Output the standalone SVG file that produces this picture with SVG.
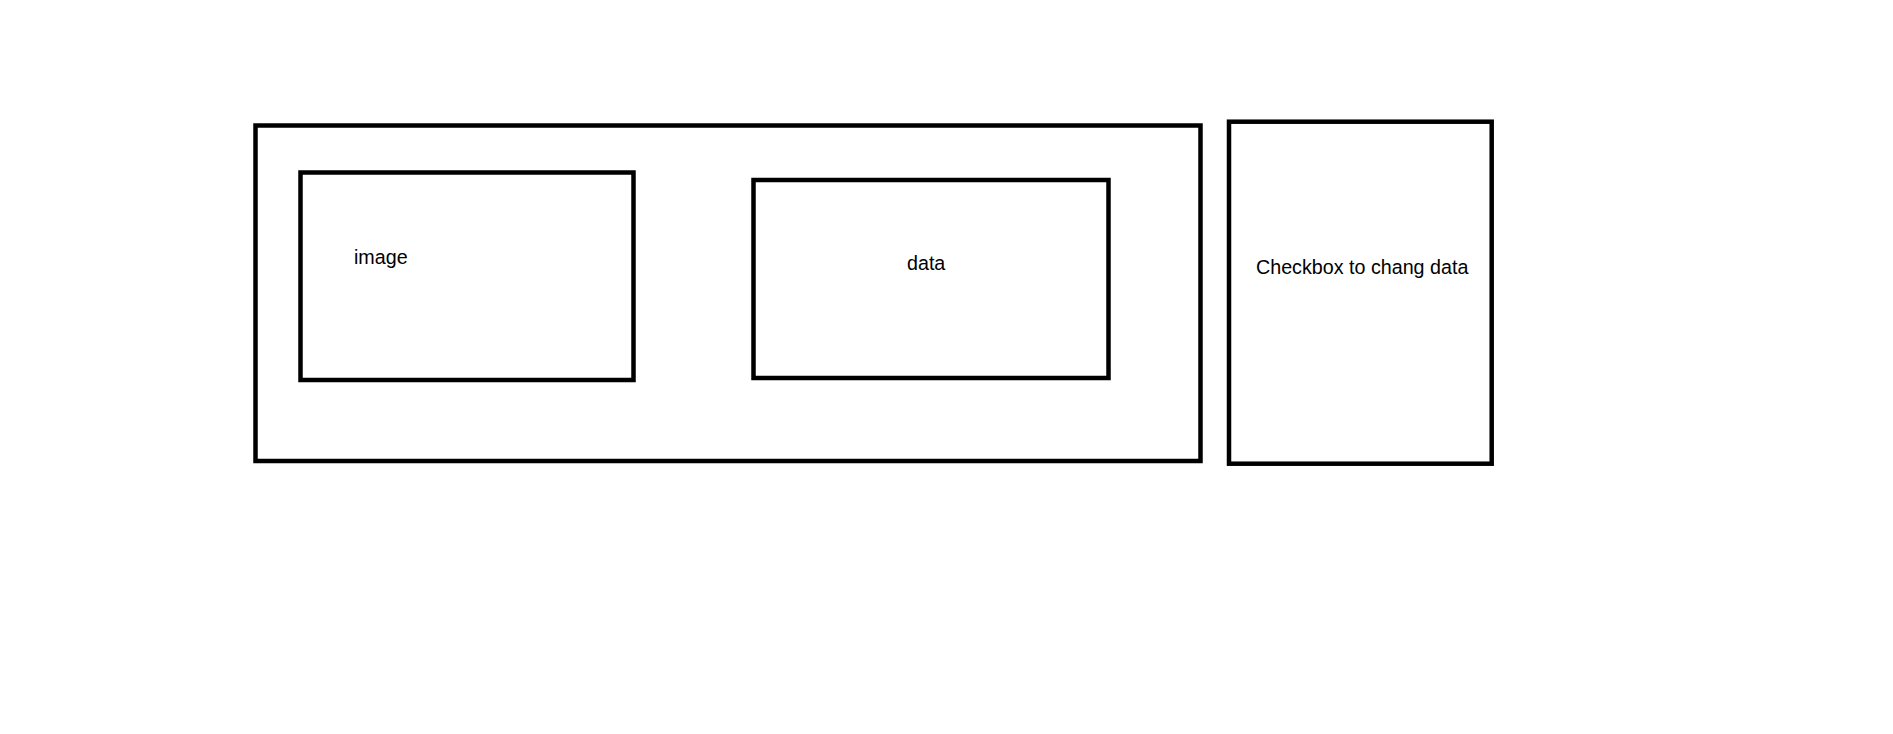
<svg xmlns="http://www.w3.org/2000/svg" width="1893" height="734" viewBox="0 0 1893 734">
<style>
.box{fill:none;stroke:#000;stroke-width:4.5}
.lbl{font-family:"Liberation Sans",Arial,sans-serif;font-size:19.7px;fill:#000}
</style>
<rect width="1893" height="734" fill="#fff"/>
<g id="container"><rect class="box" x="255.5" y="125.5" width="945" height="335.5"/></g>
<g id="image"><rect class="box" x="300.5" y="172.5" width="333" height="207.5"/><text class="lbl" x="354" y="264">image</text></g>
<g id="data"><rect class="box" x="753.5" y="180" width="355" height="198"/><text class="lbl" x="907" y="270">data</text></g>
<g id="checkbox"><rect class="box" x="1229" y="121.7" width="262.7" height="342"/><text class="lbl" x="1256" y="273.5">Checkbox to chang data</text></g>
<g id="connectors"/>
</svg>
